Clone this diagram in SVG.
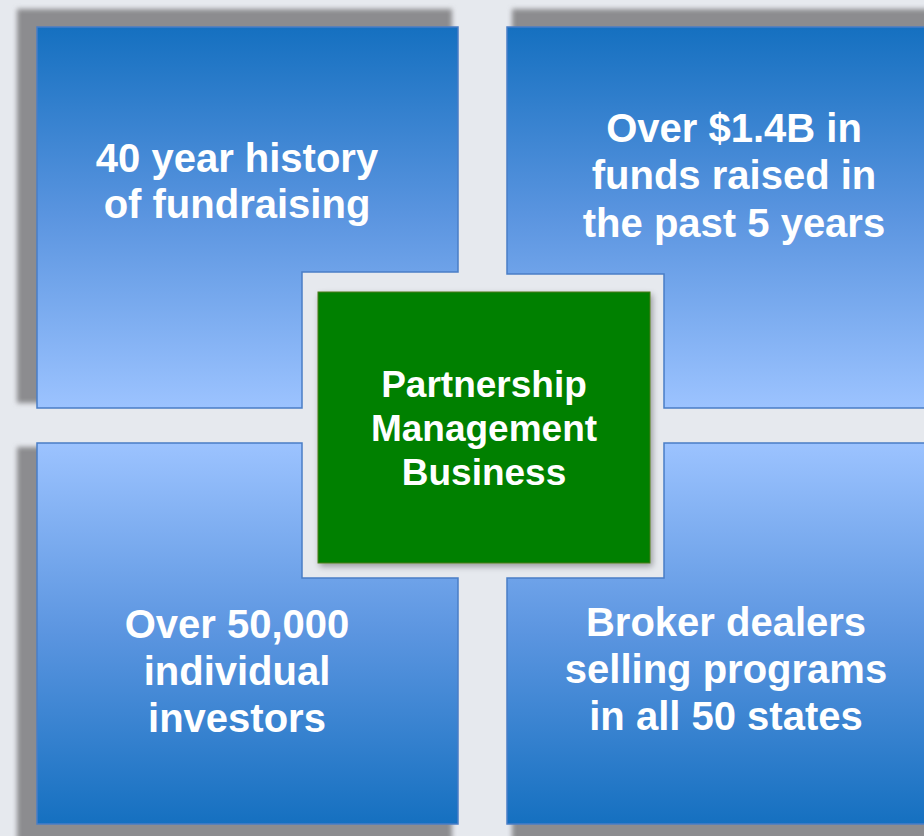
<svg xmlns="http://www.w3.org/2000/svg" width="924" height="836" viewBox="0 0 924 836">
  <defs>
    <linearGradient id="gradDown" x1="0" y1="0" x2="0" y2="1">
      <stop offset="0" stop-color="#1570c0"/>
      <stop offset="0.5" stop-color="#5b95e0"/>
      <stop offset="1" stop-color="#9cc3ff"/>
    </linearGradient>
    <linearGradient id="gradUp" x1="0" y1="0" x2="0" y2="1">
      <stop offset="0" stop-color="#9cc3ff"/>
      <stop offset="0.5" stop-color="#5b95e0"/>
      <stop offset="1" stop-color="#1570c0"/>
    </linearGradient>
    <filter id="soft" x="-10%" y="-10%" width="120%" height="120%">
      <feGaussianBlur stdDeviation="2.5"/>
    </filter>
    <filter id="boxShadow" x="-10%" y="-10%" width="120%" height="120%">
      <feGaussianBlur in="SourceAlpha" stdDeviation="3"/>
      <feOffset dx="2" dy="3"/>
      <feComponentTransfer><feFuncA type="linear" slope="0.35"/></feComponentTransfer>
      <feMerge><feMergeNode/><feMergeNode in="SourceGraphic"/></feMerge>
    </filter>
  </defs>
  <style>
    .shadow { fill: #8c8c8f; filter: url(#soft); }
    .panel { stroke: #4a7ec6; stroke-width: 1.5; }
    .label { font-family: "Liberation Sans", Arial, sans-serif; font-weight: bold; fill: #ffffff; text-anchor: middle; }
    .big { font-size: 40px; }
    .mid { font-size: 37px; }
  </style>

  <rect width="924" height="836" fill="#e6e9ee"/>

  <!-- soft shadows behind the four quadrants -->
  <g id="shadows">
    <polygon class="shadow" points="17,9 452,9 452,267 296,267 296,403 17,403"/>
    <polygon class="shadow" points="512,9 940,9 940,403 670,403 670,269 512,269"/>
    <polygon class="shadow" points="17,447 296,447 296,583 452,583 452,850 17,850"/>
    <polygon class="shadow" points="670,447 940,447 940,850 512,850 512,583 670,583"/>
  </g>

  <g id="quad-top-left">
    <polygon class="panel" fill="url(#gradDown)" points="37,27 458,27 458,272 302,272 302,408 37,408"/>
    <text class="label big" x="237" y="172">40 year history</text>
    <text class="label big" x="237" y="218">of fundraising</text>
  </g>

  <g id="quad-top-right">
    <polygon class="panel" fill="url(#gradDown)" points="507,27 930,27 930,408 664,408 664,274 507,274"/>
    <text class="label big" x="734" y="142">Over $1.4B in</text>
    <text class="label big" x="734" y="189">funds raised in</text>
    <text class="label big" x="734" y="237">the past 5 years</text>
  </g>

  <g id="quad-bottom-left">
    <polygon class="panel" fill="url(#gradUp)" points="37,443 302,443 302,578 458,578 458,824 37,824"/>
    <text class="label big" x="237" y="638">Over 50,000</text>
    <text class="label big" x="237" y="685">individual</text>
    <text class="label big" x="237" y="732">investors</text>
  </g>

  <g id="quad-bottom-right">
    <polygon class="panel" fill="url(#gradUp)" points="664,443 930,443 930,824 507,824 507,578 664,578"/>
    <text class="label big" x="726" y="636">Broker dealers</text>
    <text class="label big" x="726" y="683">selling programs</text>
    <text class="label big" x="726" y="730">in all 50 states</text>
  </g>

  <g id="center">
    <rect x="318" y="292" width="332" height="271" fill="#008000" stroke="#4d7a1c" stroke-width="1" filter="url(#boxShadow)"/>
    <text class="label mid" x="484" y="397">Partnership</text>
    <text class="label mid" x="484" y="441">Management</text>
    <text class="label mid" x="484" y="485">Business</text>
  </g>
</svg>
